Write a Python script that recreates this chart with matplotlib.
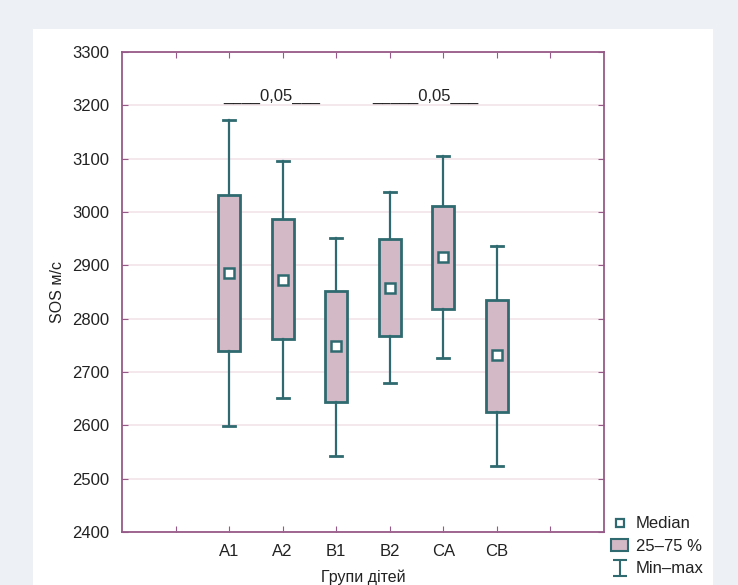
import numpy as np
import matplotlib.pyplot as plt
from matplotlib.path import Path
from matplotlib.lines import Line2D
from matplotlib.patches import Patch

plt.rcParams['font.family'] = ['Liberation Sans', 'DejaVu Sans']

# дані
groups = ['A1', 'A2', 'B1', 'B2', 'CA', 'CB']
medians = [2886, 2873, 2748, 2858, 2916, 2731]
q1 = [2740, 2761, 2643, 2768, 2819, 2625]
q3 = [3032, 2986, 2851, 2950, 3011, 2835]
mins = [2598, 2652, 2543, 2680, 2726, 2523]
maxs = [3173, 3095, 2951, 3038, 3105, 2936]
tick_labels = [''] + groups + ['']
p_text = ['____0,05___', '_____0,05___']

teal = '#2f6a70'
fill = '#d3b8c5'
spine = '#965a88'
grid = '#f4e4ea'

fig = plt.figure(figsize=(7.38, 5.85), dpi=100)
fig.patch.set_facecolor('#edf1f6')
fig.add_artist(plt.Rectangle((33/738, 0), 680/738, 1 - 29/585,
                             transform=fig.transFigure, facecolor='white',
                             edgecolor='none', zorder=0))

ax = fig.add_axes([122/738, 1 - 532/585, 482/738, 480/585])
ax.set_facecolor('white')

pos = np.arange(1, len(groups) + 1) + 1
stats = []
for i in range(len(groups)):
    stats.append(dict(med=medians[i], q1=q1[i], q3=q3[i],
                      whislo=mins[i], whishi=maxs[i], fliers=[]))

ax.bxp(stats, positions=pos, widths=0.41, patch_artist=True,
       showfliers=False,
       boxprops=dict(facecolor=fill, edgecolor=teal, linewidth=2),
       whiskerprops=dict(color=teal, linewidth=1.6),
       capprops=dict(color=teal, linewidth=2),
       medianprops=dict(linestyle='none'),
       capwidths=0.22, zorder=3)
ax.plot(pos, medians, linestyle='none', marker='s', markersize=6.5,
        markerfacecolor='white', markeredgecolor=teal, markeredgewidth=1.8,
        zorder=5)

ax.set_xlim(0, 9)
ax.set_ylim(2400, 3300)
ax.set_xticks(np.arange(1, 9))
ax.set_xticklabels(tick_labels)
ax.set_yticks(np.arange(2400, 3301, 100))
ax.yaxis.grid(True, color=grid, linewidth=1.2)
ax.set_axisbelow(True)
ax.tick_params(direction='in', length=4, color=spine, top=True, right=True,
               labelsize=12, pad=9, labelcolor='#222222')
for s in ax.spines.values():
    s.set_color(spine)
    s.set_linewidth(1.3)

ax.set_ylabel('SOS м/с', fontsize=11.5, labelpad=5, color='#222222')
ax.set_xlabel('Групи дітей', fontsize=11.5, labelpad=7, color='#222222')

ax.text(2.8, 3216, p_text[0], ha='center', va='center', fontsize=12,
        color='#222222')
ax.text(5.66, 3216, p_text[1], ha='center', va='center', fontsize=12,
        color='#222222')

imark = Path([(-0.8, -1), (0.8, -1), (0, -1), (0, 1), (-0.8, 1), (0.8, 1)],
             [Path.MOVETO, Path.LINETO, Path.MOVETO, Path.LINETO,
              Path.MOVETO, Path.LINETO])
handles = [
    Line2D([], [], linestyle='none', marker='s', markersize=5.5,
           markerfacecolor='white', markeredgecolor=teal, markeredgewidth=1.6),
    Patch(facecolor=fill, edgecolor=teal, linewidth=1.5),
    Line2D([], [], linestyle='none', marker=imark, markersize=12,
           markeredgecolor=teal, markeredgewidth=1.5),
]
fig.legend(handles, ['Median', '25–75 %', 'Min–max'], loc='upper left',
           bbox_to_anchor=(603/738, 1 - 508/585), frameon=False,
           fontsize=12, handlelength=1.0, handletextpad=0.45,
           labelspacing=0.45, borderpad=0, labelcolor='#222222')

fig.savefig('out.png', dpi=100, facecolor=fig.get_facecolor())
